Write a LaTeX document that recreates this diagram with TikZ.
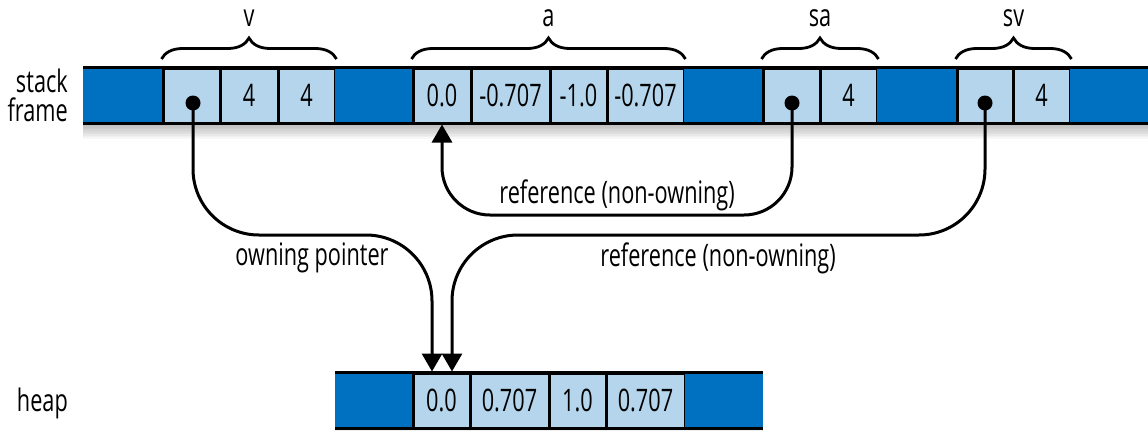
\documentclass[tikz,border=0pt]{standalone}
\usepackage{fontspec}
\setmainfont[FakeStretch=0.7]{Open Sans}
\usetikzlibrary{arrows.meta,decorations.pathreplacing}
\definecolor{darkcell}{HTML}{0070C0}
\definecolor{lightcell}{HTML}{B4D5EB}
\tikzset{
  txt/.style={font=\fontsize{31}{32}\selectfont, inner sep=0pt},
  lightc/.style={txt, fill=lightcell, draw=black, line width=3pt, minimum height=55pt, anchor=center},
  darkc/.style={fill=darkcell, draw=none, minimum height=55pt, inner sep=0pt, anchor=center},
  barline/.style={line width=3pt, black},
  dotn/.style={circle, fill=black, minimum size=15pt, inner sep=0pt},
  conn/.style={line width=3pt, black, -{Triangle[length=18pt,width=20pt]}},
  bracep/.style={decorate, decoration={brace, amplitude=21pt}, line width=2.8pt, black},
}
\begin{document}
\begin{tikzpicture}[x=1pt,y=-1pt]
\useasboundingbox (0,0) rectangle (1148,431);
% shadows
\foreach \i in {1,...,10} {
  \fill[black,opacity=0.03] (83,123) rectangle (1148,123+\i*1.6);
  \fill[black,opacity=0.03] (335,428) rectangle (763,428+\i*0.3);
}
% stack frame cells
\node[darkc, minimum width=80pt] (d0) at (123,95.5) {};
\node[lightc, minimum width=57pt] (v0) at (191.5,95.5) {};
\node[lightc, minimum width=58pt] (v1) at (249,95.5) {4};
\node[lightc, minimum width=57pt] (v2) at (306.5,95.5) {4};
\node[darkc, minimum width=78pt] (d1) at (374,95.5) {};
\node[lightc, minimum width=58pt] (a0) at (442,95.5) {0.0};
\node[lightc, minimum width=79pt] (a1) at (510.5,95.5) {-0.707};
\node[lightc, minimum width=57pt] (a2) at (578.5,95.5) {-1.0};
\node[lightc, minimum width=77pt] (a3) at (645.5,95.5) {-0.707};
\node[darkc, minimum width=79pt] (d2) at (723.5,95.5) {};
\node[lightc, minimum width=57pt] (sa0) at (791.5,95.5) {};
\node[lightc, minimum width=57pt] (sa1) at (848.5,95.5) {4};
\node[darkc, minimum width=80pt] (d3) at (917,95.5) {};
\node[lightc, minimum width=56pt] (sv0) at (985,95.5) {};
\node[lightc, minimum width=57pt] (sv1) at (1041.5,95.5) {4};
\node[darkc, minimum width=78pt] (d4) at (1109,95.5) {};
\draw[barline] (d0.north west) -- (d4.north east);
\draw[barline] (d0.south west) -- (d4.south east);
% heap cells
\node[darkc, minimum width=78pt] (hd0) at (374,400.5) {};
\node[lightc, minimum width=57pt] (h0) at (441.5,400.5) {0.0};
\node[lightc, minimum width=79pt] (h1) at (509.5,400.5) {0.707};
\node[lightc, minimum width=57pt] (h2) at (577.5,400.5) {1.0};
\node[lightc, minimum width=79pt] (h3) at (645.5,400.5) {0.707};
\node[darkc, minimum width=78pt] (hd1) at (724,400.5) {};
\draw[barline] (hd0.north west) -- (hd1.north east);
\draw[barline] (hd0.south west) -- (hd1.south east);
% row labels
\node[txt, align=right, anchor=east] (stk) at (68,95) {stack\\[-3pt]frame};
\node[txt, anchor=east] (hp) at (68,403) {heap};
% braces and variable names
\draw[bracep] (v0.north west |- 0,59) -- (v2.north east |- 0,59);
\draw[bracep] (a0.north west |- 0,59) -- (a3.north east |- 0,59);
\draw[bracep] (sa0.north west |- 0,59) -- (sa1.north east |- 0,59);
\draw[bracep] (sv0.north west |- 0,59) -- (sv1.north east |- 0,59);
\node[txt] (nv) at (249,18) {v};
\node[txt] (na) at (548.5,18) {a};
\node[txt] (nsa) at (820,18) {sa};
\node[txt] (nsv) at (1013.5,18) {sv};
% dots
\node[dotn] (vd) at (193,103) {};
\node[dotn] (sad) at (792,103) {};
\node[dotn] (svd) at (985,103) {};
% connector rows
\coordinate (ownrow) at (0,235);
\coordinate (refrow) at (0,215);
\coordinate (hin1) at ([xshift=-9.5pt]h0.north);
\coordinate (hin2) at ([xshift=10.5pt]h0.north);
\draw[conn, rounded corners=66pt] (vd.center) -- (vd.center |- ownrow) -- (ownrow -| hin1) -- (hin1);
\draw[conn, rounded corners=66pt] (svd.center) -- (svd.center |- ownrow) -- (ownrow -| hin2) -- (hin2);
\draw[conn, rounded corners=48pt] (sad.center) -- (sad.center |- refrow) -- (refrow -| a0.south) -- (a0.south);
% connector labels
\node[txt] (lown) at (312,258) {owning pointer};
\node[txt] (lref1) at (617,195) {reference (non-owning)};
\node[txt] (lref2) at (718,258) {reference (non-owning)};
\end{tikzpicture}
\end{document}
